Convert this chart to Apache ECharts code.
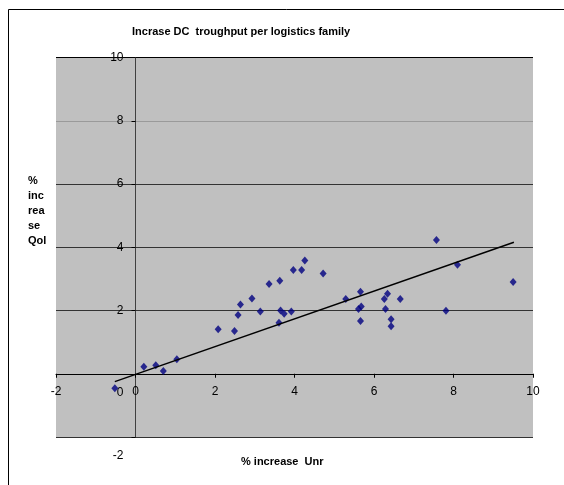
<!DOCTYPE html>
<html>
<head>
<meta charset="utf-8">
<script src="https://cdn.jsdelivr.net/npm/echarts@6/dist/echarts.min.js"></script>
<style>
html,body{margin:0;padding:0;background:#fff;}
#chart{width:564px;height:485px;}
</style>
</head>
<body>
<div id="chart"></div>
<script>
// Data
const unrIncrease = [-0.52, 0.21, 0.51, 0.70, 1.04, 2.08, 2.49, 2.58, 2.64, 2.93, 3.14, 3.36, 3.63, 3.61, 3.65, 3.74, 3.92, 3.97, 4.18, 4.26, 4.72, 5.29, 5.66, 5.61, 5.68, 5.66, 6.26, 6.34, 6.29, 6.43, 6.43, 6.66, 7.57, 7.81, 8.10, 9.50];
const qolIncrease = [-0.46, 0.22, 0.27, 0.09, 0.46, 1.41, 1.35, 1.86, 2.19, 2.38, 1.97, 2.84, 2.94, 1.61, 2.00, 1.90, 1.97, 3.28, 3.28, 3.58, 3.17, 2.36, 2.59, 2.05, 2.13, 1.67, 2.36, 2.53, 2.05, 1.72, 1.50, 2.36, 4.23, 1.99, 3.45, 2.90];
const trendX = [-0.52, 9.52];
const trendY = [-0.25, 4.16];
const xTicks = [-2, 0, 2, 4, 6, 8, 10];
const yTicks = [-2, 0, 2, 4, 6, 8, 10];

const font = '"Liberation Sans", Arial, sans-serif';
const chart = echarts.init(document.getElementById('chart'), null, {renderer: 'canvas'});
const points = unrIncrease.map((x, i) => [x, qolIncrease[i]]);
const trend = trendX.map((x, i) => [x, trendY[i]]);

// grid geometry (pixels) used to put each axis where the other crosses zero
const gridLeft = 56, gridRight = 31, gridTop = 57.5, gridBottom = 48;
const plotW = 564 - gridLeft - gridRight, plotH = 485 - gridTop - gridBottom;
const xMin = xTicks[0], xMax = xTicks[xTicks.length - 1];
const yMin = yTicks[0], yMax = yTicks[yTicks.length - 1];
const yAxisShift = -plotW * (0 - xMin) / (xMax - xMin);
const xAxisShift = -plotH * (0 - yMin) / (yMax - yMin);

chart.setOption({
  animation: false,
  backgroundColor: '#ffffff',
  textStyle: {fontFamily: font},
  title: [
    {text: 'Incrase DC  troughput per logistics family', left: 127, top: 21,
     textStyle: {fontFamily: font, fontSize: 11, fontWeight: 'bold', color: '#000'}},
    {text: '%\ninc\nrea\nse\nQol', left: 23, top: 168,
     textStyle: {fontFamily: font, fontSize: 11, fontWeight: 'bold', color: '#000', lineHeight: 15}},
    {text: '% increase  Unr', left: 236, top: 451,
     textStyle: {fontFamily: font, fontSize: 11, fontWeight: 'bold', color: '#000'}}
  ],
  graphic: [{
    type: 'polyline', silent: true,
    shape: {points: [[8.5, 485], [8.5, 9.5], [564, 9.5]]},
    style: {stroke: '#000', lineWidth: 1, fill: null}
  }],
  grid: {left: gridLeft, right: gridRight, top: gridTop, bottom: gridBottom, show: true,
         backgroundColor: '#c0c0c0', borderWidth: 0, containLabel: false},
  xAxis: {
    type: 'value', min: xMin, max: xMax, interval: 2,
    position: 'bottom', offset: xAxisShift,
    axisLine: {onZero: false, lineStyle: {color: '#000', width: 1}},
    axisTick: {show: true, inside: false, length: 4, lineStyle: {color: '#000'}},
    axisLabel: {margin: 12, fontSize: 12, color: '#000', fontFamily: font,
                formatter: v => String(v)},
    splitLine: {show: false}
  },
  yAxis: {
    type: 'value', min: yMin, max: yMax, interval: 2,
    position: 'left', offset: yAxisShift,
    axisLine: {onZero: false, lineStyle: {color: '#404040', width: 1}},
    axisTick: {show: true, inside: false, length: 4, lineStyle: {color: '#000'}},
    axisLabel: {margin: 12, fontSize: 12, color: '#000', fontFamily: font,
                formatter: v => v <= 0 ? '{low|' + v + '}' : String(v),
                rich: {low: {fontSize: 12, fontFamily: font, color: '#000', padding: [38, 0, 0, 0]}}},
    splitLine: {show: true, lineStyle: {color: ['#333', '#333', '#333', '#333', '#333', '#9a9a9a', '#000'], width: 1}}
  },
  series: [
    {type: 'scatter', data: points, symbol: 'diamond', symbolSize: [7, 8],
     itemStyle: {color: '#000080'}, z: 3},
    {type: 'line', data: trend, symbol: 'none', lineStyle: {color: '#000', width: 1.5}, z: 4}
  ]
});
</script>
</body>
</html>
